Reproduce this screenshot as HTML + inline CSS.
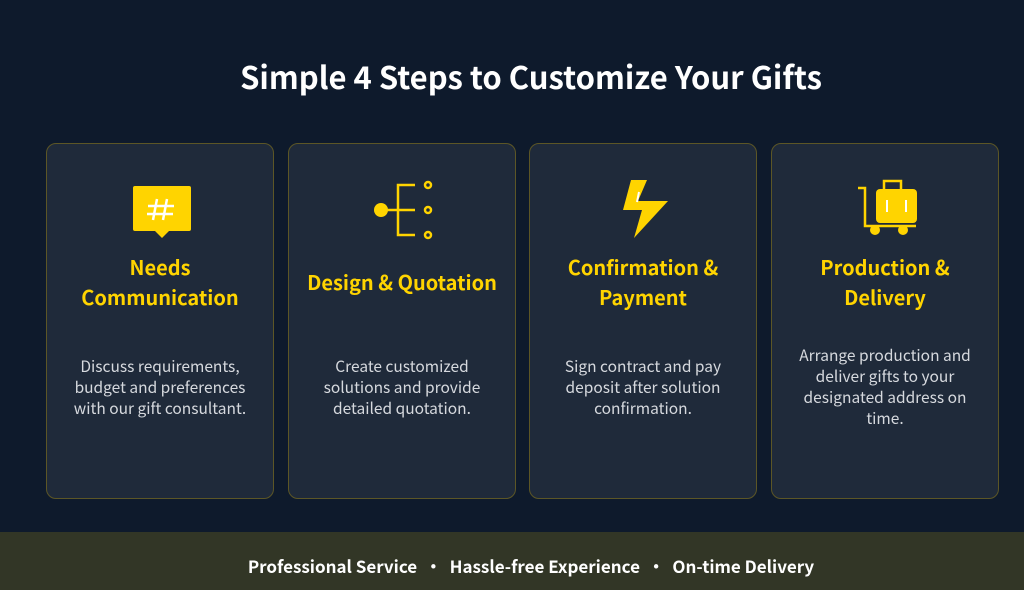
<!DOCTYPE html>
<html><head><meta charset="utf-8"><style>
*{margin:0;padding:0;box-sizing:border-box}
body{width:1024px;height:590px;background:#0e1a2c;position:relative;overflow:hidden;font-family:"Noto Sans CJK SC","Liberation Sans",sans-serif}
.title{position:absolute;left:0;width:1062px;top:55px;text-align:center;color:#fff;font-weight:700;font-size:31px;line-height:42px}
.card{position:absolute;top:143px;width:228px;height:356px;background:#1f2a3a;border:1px solid #5c5626;border-radius:10px}
.icon{position:absolute;left:0;top:0}
.h{position:absolute;left:0;right:0;height:120px;display:flex;align-items:center;justify-content:center;text-align:center;color:#ffd400;font-weight:700;font-size:20px;line-height:30px;top:78px}
.b{position:absolute;left:6px;right:6px;top:178px;height:130px;display:flex;align-items:center;justify-content:center;text-align:center;color:#d6d9de;font-size:15.5px;line-height:21px}
.foot{position:absolute;left:0;top:532px;width:1024px;height:58px;background:#323626;color:#fff;font-weight:700;font-size:17px;padding-top:10px;line-height:48px;text-align:center;padding-left:38px}
</style></head><body>
<div class="title">Simple 4 Steps to Customize Your Gifts</div>

<div class="card" style="left:46px">
<svg class="icon" width="228" height="120"><rect x="86" y="42" width="58" height="45" rx="2" fill="#ffd400"/><path d="M108 87 L115 94 L122 87Z" fill="#ffd400"/>
<g stroke="#fff" stroke-width="2.5"><line x1="110" y1="55" x2="106" y2="76"/><line x1="120" y1="55" x2="116" y2="76"/><line x1="101" y1="62" x2="127" y2="62"/><line x1="100" y1="70" x2="126" y2="70"/></g></svg>
<div class="h">Needs<br>Communication</div>
<div class="b">Discuss requirements,<br>budget and preferences<br>with our gift consultant.</div></div>

<div class="card" style="left:288px">
<svg class="icon" width="228" height="120"><circle cx="92" cy="66" r="7" fill="#ffd400"/><g stroke="#ffd400" stroke-width="2.5" fill="none"><line x1="92" y1="66" x2="126" y2="66"/><path d="M126 41 H109 V91 H126"/><circle cx="139" cy="41" r="3"/><circle cx="139" cy="66" r="3"/><circle cx="139" cy="91" r="3"/></g></svg>
<div class="h">Design &amp; Quotation</div>
<div class="b">Create customized<br>solutions and provide<br>detailed quotation.</div></div>

<div class="card" style="left:529px">
<svg class="icon" width="228" height="120"><path d="M101 36 H117 L108 57 H138 L104 94 L112 66 H93Z" fill="#ffd400"/><line x1="109" y1="48" x2="107" y2="58" stroke="#fff" stroke-width="2"/></svg>
<div class="h">Confirmation &amp;<br>Payment</div>
<div class="b">Sign contract and pay<br>deposit after solution<br>confirmation.</div></div>

<div class="card" style="left:771px">
<svg class="icon" width="228" height="120"><g stroke="#ffd400" stroke-width="2.5" fill="none"><path d="M86 44 H93 V82 H144"/><rect x="112" y="37" width="17" height="10"/></g><rect x="104" y="45" width="41" height="34" rx="4" fill="#ffd400"/><circle cx="103" cy="86" r="5" fill="#ffd400"/><circle cx="131" cy="86" r="5" fill="#ffd400"/><g stroke="#fff" stroke-width="2"><line x1="115" y1="56" x2="115" y2="68"/><line x1="134" y1="56" x2="134" y2="68"/></g></svg>
<div class="h">Production &amp;<br>Delivery</div>
<div class="b">Arrange production and<br>deliver gifts to your<br>designated address on<br>time.</div></div>

<div class="foot">Professional Service &nbsp;•&nbsp; Hassle-free Experience &nbsp;•&nbsp; On-time Delivery</div>
</body></html>
